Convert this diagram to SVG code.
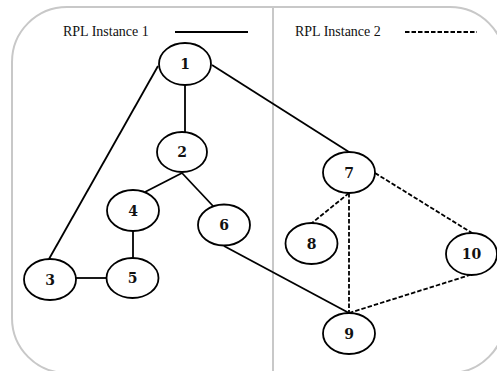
<svg xmlns="http://www.w3.org/2000/svg" width="497" height="371" viewBox="0 0 497 371">
<style>
.frame{fill:none;stroke:#c8c8c8;stroke-width:2}
.node ellipse{fill:#fff;stroke:#000;stroke-width:1.8}
.node text{font-family:"DejaVu Serif",serif;font-weight:bold;font-size:14px;text-anchor:middle;fill:#111}
.legend{font-family:"Liberation Serif",serif;font-size:14px;fill:#111}
.solid{stroke:#000;stroke-width:1.8;fill:none}
.dash{stroke:#000;stroke-width:1.8;fill:none;stroke-dasharray:4.5 2}
</style>
<rect class="frame" x="12" y="7" width="493" height="366" rx="55" ry="55"/>
<line x1="273" y1="7" x2="273" y2="371" stroke="#c8c8c8" stroke-width="2"/>
<g id="legend">
<text class="legend" x="63" y="36">RPL Instance 1</text>
<line class="solid" x1="175" y1="32" x2="248" y2="32"/>
<text class="legend" x="295" y="36">RPL Instance 2</text>
<line class="dash" x1="405" y1="32" x2="477" y2="32"/>
</g>
<g id="connectors">
<line class="solid" x1="185" y1="85" x2="185" y2="132"/>
<line class="solid" x1="158" y1="66" x2="49" y2="259"/>
<line class="solid" x1="212" y1="65" x2="349" y2="152"/>
<line class="solid" x1="182" y1="173" x2="145" y2="192"/>
<line class="solid" x1="182" y1="173" x2="213" y2="206"/>
<line class="solid" x1="133" y1="231" x2="133" y2="258"/>
<line class="solid" x1="76" y1="278" x2="107" y2="278"/>
<line class="solid" x1="224" y1="246" x2="349" y2="313"/>
<line class="dash" x1="349" y1="193" x2="312" y2="223"/>
<line class="dash" x1="349" y1="193" x2="349" y2="313"/>
<line class="dash" x1="375" y1="173" x2="472" y2="233"/>
<line class="dash" x1="349" y1="313" x2="470" y2="275"/>
</g>
<g id="n1" class="node"><ellipse cx="185" cy="64" rx="26" ry="21"/><text x="185" y="69">1</text></g>
<g id="n2" class="node"><ellipse cx="182" cy="152" rx="25" ry="20"/><text x="182" y="157">2</text></g>
<g id="n3" class="node"><ellipse cx="50" cy="279.5" rx="26" ry="20.5"/><text x="50" y="284.5">3</text></g>
<g id="n4" class="node"><ellipse cx="133" cy="210.5" rx="26" ry="20.5"/><text x="133" y="215.5">4</text></g>
<g id="n5" class="node"><ellipse cx="132.5" cy="278" rx="26" ry="20"/><text x="132.5" y="283">5</text></g>
<g id="n6" class="node"><ellipse cx="224" cy="225" rx="26" ry="20.5"/><text x="224" y="230">6</text></g>
<g id="n7" class="node"><ellipse cx="349" cy="172.5" rx="26" ry="20.5"/><text x="349" y="177.5">7</text></g>
<g id="n8" class="node"><ellipse cx="311.5" cy="243.5" rx="26" ry="20.5"/><text x="311.5" y="248.5">8</text></g>
<g id="n9" class="node"><ellipse cx="349" cy="333.5" rx="26" ry="20.5"/><text x="349" y="338.5">9</text></g>
<g id="n10" class="node"><ellipse cx="471.5" cy="254" rx="25.5" ry="21"/><text x="471.5" y="259">10</text></g>
</svg>
